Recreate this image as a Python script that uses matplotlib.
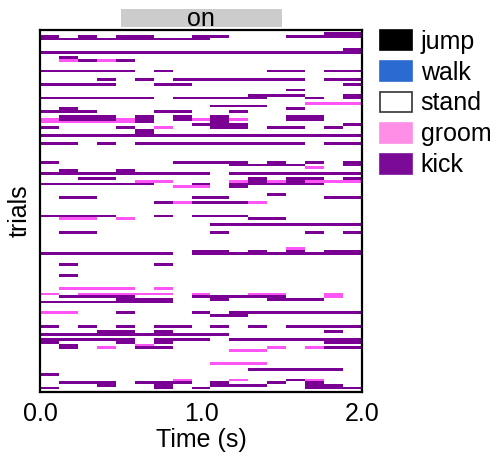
import numpy as np
import matplotlib
matplotlib.use("Agg")
import matplotlib.pyplot as plt
from matplotlib.colors import ListedColormap
from matplotlib.patches import Patch, Rectangle
import matplotlib.transforms as mtransforms

plt.rcParams['font.family'] = ['Liberation Sans', 'DejaVu Sans']

# ---- data -------------------------------------------------------------
n_trials = 135
n_bins = 17
t_min, t_max = 0.0, 2.0
stim_on, stim_off = 0.5, 1.5
xtick_vals = [0.0, 1.0, 2.0]
xtick_labels = ["0.0", "1.0", "2.0"]

# per-trial behaviour strings, one char per time bin
# '.' = stand, 'g' = groom, 'k' = kick
trial_ids = [1, 2, 3, 7, 8, 10, 11, 15, 18, 20, 22, 24, 25, 27, 28, 29, 30,
             32, 33, 34, 35, 36, 37, 38, 39, 42, 49, 50, 51, 52, 53, 55, 56,
             57, 58, 61, 62, 64, 69, 70, 72, 75, 81, 82, 83, 87, 91, 96, 98,
             99, 100, 101, 105, 106, 110, 112, 113, 115, 116, 117, 118, 119,
             124, 126, 128, 130, 131, 132, 133]
trial_codes = [
    "...............kk",
    "k.k.kk..kk...kkkk",
    "kkkkkkkkk........",
    "................k",
    "kkkkkkkkkkkkkkkkk",
    ".k...............",
    ".gkgk............",
    "kkkkk.k.....kk.kk",
    "...k.k.kkkkkkk.kk",
    "kkkk..kk........k",
    ".............k...",
    "...........kkk..k",
    "kkkkkk.kkkkk..k.k",
    "..............ggg",
    ".........kkk.....",
    ".k...........k...",
    "kkk...kk..k......",
    ".kkk.k.k.k...kk..",
    "gkkkgk.kgkg..kk..",
    "gggggk...k.......",
    "........kkk.....k",
    "k...k.g..kk.kk.k.",
    ".....k...........",
    ".....k...........",
    "kkkkkkkkkkkkkkkkk",
    "kk.k.kkkkkkkkk.kk",
    "k......kkkk.k.k.k",
    "..........kkkk..k",
    "..............g..",
    ".k..k............",
    "kkkkkkkkk.kkkkkkk",
    "..kk.......k.kk.k",
    ".....gg...gkgkggg",
    "kkkkkk..k.kkkkk..",
    ".......gg.k......",
    "............k....",
    ".kk.....kk.....kk",
    "......kgkkkg.....",
    "kkkk..k.kkk......",
    ".gg.g......kk....",
    ".........kkkkkkkk",
    ".kk......k....k.k",
    ".............g...",
    "........kk.k.k.kk",
    "kkkkkkk.kkkkkkkkk",
    ".k....k..........",
    ".k...............",
    ".gggg.g..........",
    "g.ggggg.g..gg..g.",
    ".kkkk...kkkkk..g.",
    "....kkk..k..kkk..",
    "kkkkkkk..........",
    "gg..k...k.kkkkkkk",
    ".........kk......",
    "k.k.k.kk.k.k.kkkk",
    "...kk.k........k.",
    "kkkkkkkkkk.......",
    "kkkkk.kkk.kkkkkkk",
    "k...k.k........kk",
    ".k...g...........",
    ".k.g.kk.....g.gkk",
    "..........gg.....",
    ".........ggg.....",
    "...........kkkkk.",
    "k................",
    ".......g..g..kg..",
    ".kkk.kkk.k..k.k..",
    "...k..k..kkk..kk.",
    "k.....k.k.....kkk",
]

legend_labels = ["jump", "walk", "stand", "groom", "kick"]
legend_colors = ["#000000", "#2b6bd1", "#ffffff", "#ff8ee6", "#7b0a99"]

# ---- build matrix -----------------------------------------------------
code_map = {'.': 0, 'g': 1, 'k': 2}
mat = np.zeros((n_trials, n_bins))
for tid, codes in zip(trial_ids, trial_codes):
    mat[tid] = [code_map[c] for c in codes]

stand_c = "#ffffff"
groom_c = "#ff55f5"
kick_c = "#790092"
cmap = ListedColormap([stand_c, groom_c, kick_c])

# ---- figure -----------------------------------------------------------
W, H = 498, 458
fig = plt.figure(figsize=(W / 100, H / 100), dpi=100)
ax = fig.add_axes([40 / W, 1 - 392 / H, 322 / W, 362.5 / H])

x_edges = np.linspace(t_min, t_max, n_bins + 1)
y_edges = np.arange(n_trials + 1)
ax.pcolormesh(x_edges, y_edges, mat, cmap=cmap, vmin=0, vmax=2,
              shading='flat', antialiased=True, linewidth=0)
ax.set_xlim(t_min, t_max)
ax.set_ylim(n_trials, 0)

for sp in ax.spines.values():
    sp.set_linewidth(1.6)
    sp.set_color("black")

ax.set_xticks(xtick_vals)
ax.set_xticklabels(xtick_labels, fontsize=18)
ax.tick_params(axis='x', length=0, pad=7)
ax.set_yticks([])
ax.set_xlabel("Time (s)", fontsize=18, labelpad=2)
ax.set_ylabel("trials", fontsize=18, labelpad=6)

# stimulus "on" bar
trans = mtransforms.blended_transform_factory(ax.transData, ax.transAxes)
ax.add_patch(Rectangle((stim_on, 1.008), stim_off - stim_on, 0.048,
                       transform=trans, clip_on=False,
                       facecolor="#cccccc", edgecolor="none"))
ax.text((stim_on + stim_off) / 2, 1.030, "on", transform=trans,
        ha='center', va='center', fontsize=18)

# legend
handles = []
for lab, col in zip(legend_labels, legend_colors):
    ec = "#333333" if col == "#ffffff" else col
    handles.append(Patch(facecolor=col, edgecolor=ec, linewidth=1.2, label=lab))
fig.legend(handles=handles, loc='upper left',
           bbox_to_anchor=(372 / W, 1 - 22 / H),
           frameon=False, fontsize=18, handlelength=1.3, handleheight=0.82,
           handletextpad=0.35, labelspacing=0.28, borderaxespad=0,
           borderpad=0.3)

fig.savefig("out.png", dpi=100)
